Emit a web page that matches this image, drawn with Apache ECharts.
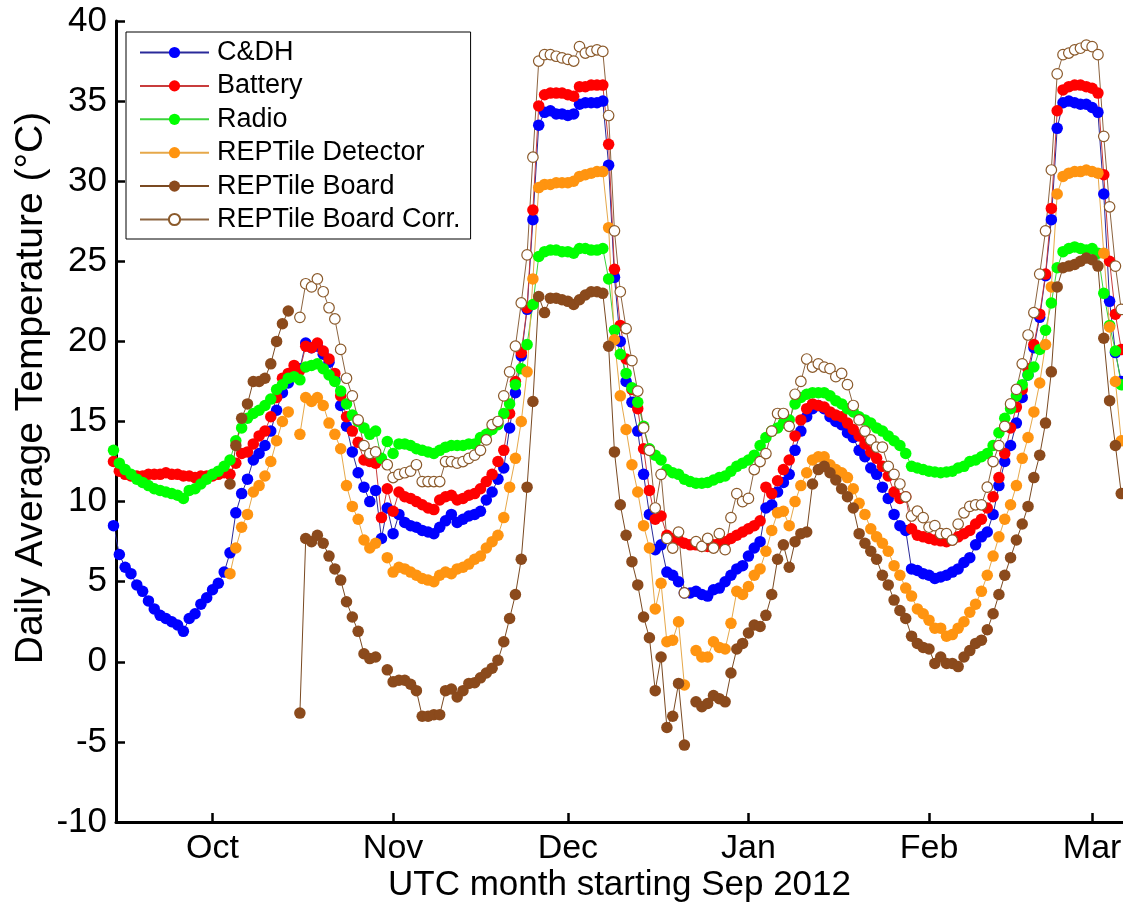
<!doctype html>
<html>
<head>
<meta charset="UTF-8">
<title>Daily Average Temperature</title>
<script src="https://cdn.jsdelivr.net/npm/echarts@6/dist/echarts.min.js"></script>
<style>
  html, body { margin: 0; padding: 0; background: #fff; }
  #main { width: 1123px; height: 909px; }
</style>
</head>
<body>
<div id="main"></div>
<script>
// days counted from 1 Sep 2012 (day 0 = Sep 1)
var monthTicks = [30, 61, 91, 122, 153, 181];
var monthLabels = ['Oct', 'Nov', 'Dec', 'Jan', 'Feb', 'Mar'];
var yTicks = [-10, 40, 5]; // min, max, step

var names = ['C&DH', 'Battery', 'Radio', 'REPTile Detector', 'REPTile Board', 'REPTile Board Corr.'];

var cdhStart = 13;
var cdh = [
  8.5, 6.7, 5.9, 5.5, 4.8, 4.4, 3.8, 3.3, 2.9, 2.7,
  2.5, 2.3, 1.9, 2.7, 3.0, 3.6, 4.0, 4.5, 4.9, 5.6,
  6.8, 9.3, 10.5, 11.4, 12.6, 13.0, 13.5, 14.4, 15.7, 16.8,
  17.4, 18.0, 18.3, 19.9, 19.6, 19.7, 19.2, 18.7, 17.6, 16.0,
  14.7, 13.1, 11.8, 10.9, 10.0, 10.7, 7.7, 9.6, 8.0, 9.2,
  8.7, 8.5, 8.4, 8.2, 8.1, 8.0, 8.4, 8.8, 9.2, 8.7,
  8.9, 9.1, 9.2, 9.4, 10.1, 10.6, 11.4, 12.1, 14.6, 16.8,
  19.1, 22.0, 27.6, 33.5, 34.3, 34.4, 34.2, 34.2, 34.1, 34.2,
  34.8, 34.9, 34.9, 34.9, 35.0, 31.0, 24.0, 20.0, 17.5, 16.2,
  14.4, 11.7, 9.2, 7.0, 7.3, 5.6, 5.4, 5.0, 4.3, 4.3,
  4.4, 4.2, 4.1, 4.5, 4.6, 5.0, 5.4, 5.8, 6.0, 6.6,
  7.1, 7.5, 9.6, 9.8, 10.6, 11.2, 11.7, 13.2, 14.4, 15.3,
  15.8, 16.0, 15.8, 15.3, 15.0, 14.8, 14.3, 14.0, 13.2, 12.8,
  12.1, 11.7, 10.9, 10.2, 9.2, 8.5, 8.2, 5.8, 5.7, 5.5,
  5.4, 5.2, 5.3, 5.4, 5.6, 5.8, 6.2, 6.5, 7.3, 7.8,
  8.1, 9.2, 11.0, 12.5, 13.5, 14.9, 16.5, 17.9, 19.6, 21.5,
  24.1, 27.6, 33.3, 34.9, 35.0, 34.9, 34.8, 34.8, 34.6, 34.3,
  29.2, 22.5, 19.3, 17.5
];

var batteryStart = 13;
var battery = [
  12.5, 11.9, 11.7, 11.6, 11.6, 11.6, 11.7, 11.7, 11.7, 11.8,
  11.7, 11.7, 11.6, 11.6, 11.5, 11.6, 11.6, 11.6, 11.7, 11.8,
  11.7, 12.4, 13.0, 13.1, 13.6, 14.1, 14.4, 15.3, 16.5, 17.7,
  18.0, 18.5, 18.2, 19.7, 19.6, 19.9, 19.4, 18.9, 18.0, 16.6,
  15.3, 14.4, 13.7, 12.6, 12.5, 12.4, 9.0, 10.8, 9.4, 10.6,
  10.3, 10.2, 10.0, 9.8, 9.6, 9.5, 10.1, 10.3, 10.4, 10.1,
  10.2, 10.4, 10.5, 10.8, 11.25, 11.7, 12.5, 13.2, 15.5, 17.5,
  19.3, 22.1, 28.2, 34.7, 35.4, 35.5, 35.5, 35.5, 35.4, 35.3,
  35.9, 35.9, 36.0, 36.0, 36.0, 32.3, 24.5, 21.0, 18.9, 17.0,
  15.8, 13.3, 10.7, 8.9, 9.1, 7.9, 7.7, 7.6, 7.4, 7.3,
  7.3, 7.2, 7.2, 7.3, 7.4, 7.5, 7.7, 7.9, 8.1, 8.3,
  8.5, 8.8, 10.9, 10.5, 11.3, 12.0, 12.6, 14.1, 15.1, 15.8,
  16.1, 16.0, 15.9, 15.6, 15.4, 15.3, 14.9, 14.5, 14.1, 13.6,
  13.1, 12.7, 12.2, 11.6, 10.6, 10.2, 10.3, 8.3, 7.9, 7.8,
  7.7, 7.6, 7.55, 7.5, 7.6, 7.8, 8.0, 8.2, 8.6, 8.9,
  9.6, 10.3, 11.5, 13.0, 14.6, 15.9, 17.0, 18.3, 19.8, 21.7,
  24.2, 28.3, 34.4, 35.7, 35.9, 36.0, 36.0, 35.9, 35.8, 35.5,
  30.4, 25.0, 21.7, 19.5
];

var radioStart = 13;
var radio = [
  13.2, 12.4, 12.0, 11.7, 11.4, 11.2, 11.0, 10.8, 10.7, 10.6,
  10.5, 10.4, 10.2, 10.7, 10.8, 11.1, 11.4, 11.7, 11.9, 12.2,
  12.6, 13.8, 14.6, 15.2, 15.5, 15.7, 16.0, 16.4, 17.0, 17.3,
  17.7, 17.8, 17.6, 18.4, 18.5, 18.6, 18.3, 17.9, 17.5, 16.9,
  16.1, 15.4, 15.0, 14.6, 14.2, 14.4, 12.7, 13.75, 13.0, 13.6,
  13.6, 13.5, 13.3, 13.2, 13.1, 13.0, 13.2, 13.4, 13.5, 13.5,
  13.5, 13.6, 13.6, 14.0, 14.2, 14.5, 14.8, 15.5, 16.1, 17.3,
  18.3, 19.8, 22.3, 25.3, 25.6, 25.7, 25.7, 25.6, 25.6, 25.5,
  25.8, 25.8, 25.7, 25.7, 25.8, 23.9, 20.7, 19.2, 18.0, 17.1,
  16.2, 14.7, 13.3, 12.9, 12.6, 12.0, 11.8, 11.7, 11.4, 11.25,
  11.15, 11.15, 11.2, 11.35, 11.5, 11.6, 11.9, 12.2, 12.4, 12.6,
  12.9, 13.5, 14.0, 14.4, 14.6, 14.9, 15.1, 16.1, 16.5, 16.7,
  16.8, 16.8, 16.8, 16.6, 16.3, 16.1, 15.8, 15.6, 15.3, 15.1,
  14.9, 14.6, 14.4, 14.1, 13.8, 13.5, 13.0, 12.2, 12.1, 12.0,
  11.9, 11.85, 11.8, 11.85, 11.9, 12.1, 12.2, 12.5, 12.6, 12.8,
  13.0, 13.5, 14.3, 15.2, 15.8, 16.6, 17.3, 17.9, 18.4, 19.5,
  20.7, 22.4, 24.6, 25.6, 25.8, 25.9, 25.8, 25.7, 25.8, 25.5,
  23.0, 21.0, 19.4, 17.3
];

var detectorStart = 33;
var detector = [
  5.5, 7.1, 8.4, 9.2, 10.6, 11.0, 11.6, 12.5, 13.8, 15.0,
  15.6, null, 14.2, 16.5, 16.25, 16.5, 16.0, 14.9, 14.2, 13.3,
  11.0, 9.7, 8.9, 7.6, 7.1, 7.4, null, 6.5, 5.6, 5.9,
  5.8, 5.6, 5.4, 5.2, 5.1, 5.0, 5.4, 5.6, 5.5, 5.8,
  5.9, 6.1, 6.4, 6.6, 7.1, 7.5, 7.9, 9.0, 10.9, 12.7,
  15.0, 18.1, 23.9, 29.6, 29.8, 29.8, 29.9, 29.9, 29.9, 30.0,
  30.3, 30.4, 30.5, 30.6, 30.6, 27.1, 20.1, 16.6, 14.5, 12.3,
  10.6, 8.5, 7.1, 3.3, 4.9, 1.25, 1.35, 2.5, -1.45, null,
  0.7, 0.3, 0.3, 1.25, 0.9, 0.8, 2.4, 4.4, 4.2, 4.7,
  5.4, 5.8, 6.9, 8.2, 9.3, 9.4, 8.5, 10.0, 11.0, 11.8,
  12.6, 12.8, 12.8, 12.3, 12.0, 11.8, 11.5, 10.8, 9.9, 9.2,
  8.3, 7.8, 7.4, 6.9, 6.0, 5.4, 4.6, 4.1, 3.3, 3.0,
  2.6, 2.1, 2.1, 1.6, 1.7, 2.1, 2.5, 3.1, 3.6, 4.4,
  5.4, 6.6, 7.8, 8.9, 9.8, 11.0, 12.7, 14.0, 15.6, 17.4,
  19.8, 23.4, 29.2, 30.3, 30.5, 30.6, 30.6, 30.7, 30.6, 30.5,
  25.5, 20.9, 17.5, 13.8
];

var boardStart = 33;
var board = [
  11.1, 13.5, 15.2, 16.1, 17.5, 17.5, 17.7, 18.6, 20.0, 21.1,
  21.9, null, -3.2, 7.7, 7.5, 7.9, 7.4, 6.6, 5.8, 5.1,
  3.75, 2.8, 1.9, 0.5, 0.2, 0.3, null, -0.5, -1.25, -1.15,
  -1.15, -1.4, -1.8, -3.4, -3.4, -3.3, -3.3, -1.8, -1.7, -2.2,
  -1.8, -1.35, -1.3, -1.0, -0.7, -0.4, 0.1, 1.25, 2.7, 4.2,
  6.4, 10.9, 16.25, 22.8, 21.8, 22.7, 22.7, 22.6, 22.5, 22.3,
  22.6, 22.9, 23.1, 23.1, 23.0, 19.7, 13.1, 9.8, 7.9, 6.25,
  4.8, 2.8, 1.5, -1.8, 0.3, -4.1, -3.4, -1.35, -5.2, null,
  -2.5, -2.8, -2.6, -2.1, -2.3, -2.5, -0.7, 0.8, 1.15, 1.8,
  2.3, 2.2, 2.9, 4.2, 6.4, 7.3, 5.9, 7.5, 8.0, 8.1,
  11.1, 12.0, 12.2, 11.8, 11.35, 10.8, 10.3, 9.6, 8.0, 7.4,
  6.9, 6.4, 5.4, 4.8, 3.85, 3.2, 2.7, 1.6, 1.15, 0.9,
  0.8, -0.1, 0.3, -0.1, -0.1, -0.3, 0.3, 0.7, 1.15, 1.35,
  2.0, 3.0, 4.2, 5.4, 6.5, 7.6, 8.6, 9.7, 11.5, 12.9,
  14.9, 18.1, 23.4, 24.6, 24.7, 24.8, 25.0, 25.2, 25.1, 24.7,
  20.2, 16.3, 13.5, 10.5
];

var corrStart = 45;
var corr = [
  21.5, 23.6, 23.4, 23.9, 23.1, 22.1, 21.4, 19.5,
  17.7, 16.6, 15.1, 13.5, 13.0, 13.1, null, 12.3, 11.5, 11.7,
  11.8, 11.9, 12.3, 11.25, 11.25, 11.25, 11.25, 12.5, 12.5, 12.4,
  12.5, 12.7, 12.9, 13.2, 13.85, 14.8, 15.0, 16.6, 18.1, 19.7,
  22.4, 25.4, 31.5, 37.5, 37.9, 37.9, 37.8, 37.7, 37.6, 37.5,
  38.4, 38.0, 38.1, 38.2, 38.1, 34.1, 26.9, 23.1, 20.8, 18.8,
  16.9, 14.6, 13.2, 9.6, 11.7, 7.7, 7.1, 8.1, 4.3, null,
  7.5, 7.2, 7.7, 7.1, 8.0, 7.0, 9.0, 10.5, 10.0, 10.2,
  12.0, 12.5, 13.0, 14.4, 15.5, 15.5, 14.7, 16.7, 17.5, 18.9,
  18.4, 18.6, 18.4, 18.3, 17.8, 18.0, 17.3, 16.0, 15.1, 14.4,
  13.85, 13.4, 13.4, 12.2, 11.7, 11.1, 10.3, 9.1, 9.4, 9.0,
  8.4, 8.5, 8.0, 8.0, 7.6, 8.6, 9.3, 9.7, 9.8, 9.8,
  10.9, 12.5, 13.5, 14.7, 16.1, 17.0, 18.6, 20.4, 21.8, 24.2,
  26.9, 30.7, 36.7, 37.9, 38.0, 38.2, 38.3, 38.5, 38.4, 37.9,
  32.8, 28.4, 24.7, 22.0
];

function pairs(start, vals) {
  return vals.map(function (v, i) {
    return [start + i, v == null ? '-' : v];
  });
}

var FONT = 'Liberation Sans, Arial, sans-serif';

function mkSeries(name, start, vals, lineColor, fill, edge) {
  return {
    name: name,
    type: 'line',
    data: pairs(start, vals),
    symbol: 'circle',
    symbolSize: edge ? 10.5 : 11.5,
    showAllSymbol: true,
    connectNulls: false,
    clip: false,
    lineStyle: { color: lineColor, width: 1 },
    itemStyle: { color: fill, borderColor: edge || fill, borderWidth: edge ? 1.2 : 0 },
    emphasis: { disabled: true }
  };
}

var chart = echarts.init(document.getElementById('main'), null, { renderer: 'canvas' });

var option = {
  animation: false,
  backgroundColor: '#fff',
  grid: { left: 116, right: 0, top: 21, bottom: 87, outerBoundsMode: 'none' },
  legend: {
    orient: 'vertical',
    left: 126,
    top: 32,
    padding: [5, 10, 4, 13],
    itemWidth: 69,
    itemHeight: 14,
    itemGap: 2.4,
    borderColor: '#000',
    borderWidth: 1,
    borderRadius: 0,
    backgroundColor: '#fff',
    textStyle: { fontSize: 27, fontFamily: FONT, color: '#000', lineHeight: 31, padding: [0, 0, 0, 3] },
    data: names
  },
  xAxis: {
    type: 'value',
    min: 13.43,
    max: 186.3,
    name: 'UTC month starting Sep 2012',
    nameLocation: 'middle',
    nameGap: 46,
    nameMoveOverlap: false,
    nameTextStyle: { fontSize: 35, fontFamily: FONT, color: '#000' },
    axisLine: { onZero: false, lineStyle: { color: '#000', width: 3 } },
    axisTick: { inside: true, length: 9, customValues: monthTicks, lineStyle: { color: '#000', width: 2.5 } },
    axisLabel: {
      customValues: monthTicks,
      fontSize: 34, fontFamily: FONT, color: '#000', margin: 10,
      formatter: function (v) { return monthLabels[monthTicks.indexOf(v)] || ''; }
    },
    splitLine: { show: false }
  },
  yAxis: {
    type: 'value',
    min: yTicks[0],
    max: yTicks[1],
    interval: yTicks[2],
    axisLine: { show: true, onZero: false, lineStyle: { color: '#000', width: 3 } },
    axisTick: { show: true, inside: true, length: 9, lineStyle: { color: '#000', width: 2.5 } },
    axisLabel: { fontSize: 35, fontFamily: FONT, color: '#000', margin: 9 },
    splitLine: { show: false }
  },
  graphic: [{
    type: 'text',
    x: 31,
    y: 388,
    rotation: Math.PI / 2,
    style: {
      text: 'Daily Average Temperature (°C)',
      font: '39px ' + FONT,
      fill: '#000',
      align: 'center',
      verticalAlign: 'middle'
    }
  }],
  series: [
    mkSeries(names[0], cdhStart, cdh, '#2a2a9a', '#0000ff'),
    mkSeries(names[1], batteryStart, battery, '#c83c3c', '#ff0000'),
    mkSeries(names[2], radioStart, radio, '#3cd23c', '#00ff00'),
    mkSeries(names[3], detectorStart, detector, '#e6a84a', '#ff9410'),
    mkSeries(names[4], boardStart, board, '#7a4a22', '#8b4a1c'),
    mkSeries(names[5], corrStart, corr, '#8c6440', '#ffffff', '#8b5a2b')
  ]
};

chart.setOption(option);
</script>
</body>
</html>
